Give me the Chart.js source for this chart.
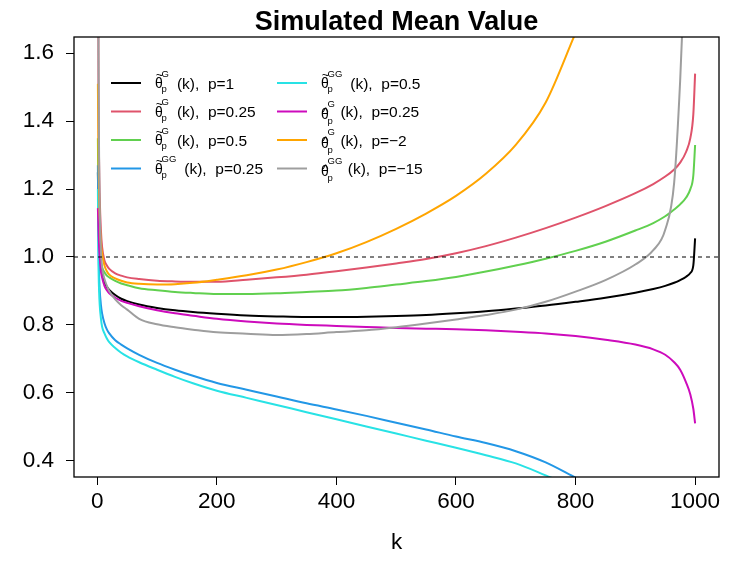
<!DOCTYPE html>
<html>
<head>
<meta charset="utf-8">
<script src="https://cdn.jsdelivr.net/npm/chart.js@4"></script>
<style>
  body { margin: 0; background: #fff; }
</style>
</head>
<body>
<canvas id="meanChart" width="747" height="561"></canvas>
<script>
const kValues = [1, 2, 3, 4, 6, 8, 12, 16, 20, 30, 40, 50, 70, 100, 130, 160, 200, 250, 300, 350,
  400, 450, 500, 550, 600, 650, 700, 750, 800, 850, 900, 930, 950, 965, 975, 985, 992, 997, 1000];

const tildeG_p1 = [1.25, 1.12, 1.05, 1.01, 0.97, 0.95, 0.925, 0.912, 0.903, 0.888, 0.877, 0.870, 0.860, 0.850, 0.843, 0.838, 0.833, 0.828, 0.825, 0.823,
  0.823, 0.824, 0.826, 0.829, 0.834, 0.840, 0.848, 0.857, 0.868, 0.880, 0.895, 0.906, 0.915, 0.924, 0.932, 0.942, 0.953, 0.975, 1.055];
const tildeG_p025 = [2.4, 1.5, 1.28, 1.18, 1.08, 1.03, 0.99, 0.975, 0.965, 0.952, 0.945, 0.940, 0.935, 0.930, 0.928, 0.927, 0.927, 0.933, 0.940, 0.948,
  0.958, 0.969, 0.981, 0.994, 1.011, 1.032, 1.057, 1.085, 1.116, 1.150, 1.188, 1.215, 1.237, 1.258, 1.278, 1.310, 1.350, 1.420, 1.540];
const tildeG_p05 = [1.35, 1.15, 1.07, 1.03, 0.99, 0.97, 0.955, 0.945, 0.940, 0.930, 0.922, 0.917, 0.908, 0.902, 0.897, 0.894, 0.891, 0.891, 0.893, 0.897,
  0.901, 0.909, 0.919, 0.929, 0.941, 0.957, 0.975, 0.995, 1.018, 1.045, 1.078, 1.100, 1.120, 1.140, 1.155, 1.175, 1.200, 1.240, 1.330];
const tildeGG_p025 = [1.27, 1.05, 0.95, 0.905, 0.86, 0.834, 0.805, 0.787, 0.775, 0.755, 0.742, 0.731, 0.712, 0.688, 0.668, 0.650, 0.629, 0.609, 0.589, 0.569,
  0.551, 0.532, 0.512, 0.492, 0.471, 0.452, 0.428, 0.395, 0.350, null, null, null, null, null, null, null, null, null, null];
const tildeGG_p05 = [1.2, 0.98, 0.90, 0.86, 0.82, 0.795, 0.775, 0.760, 0.749, 0.732, 0.718, 0.707, 0.690, 0.668, 0.647, 0.628, 0.606, 0.585, 0.564, 0.543,
  0.522, 0.501, 0.480, 0.459, 0.438, 0.416, 0.392, 0.357, 0.320, null, null, null, null, null, null, null, null, null, null];
const hatG_p025 = [1.144, 1.08, 1.03, 1.0, 0.96, 0.94, 0.915, 0.902, 0.893, 0.880, 0.871, 0.865, 0.855, 0.843, 0.834, 0.827, 0.818, 0.810, 0.804, 0.800,
  0.797, 0.794, 0.791, 0.789, 0.787, 0.784, 0.780, 0.775, 0.767, 0.756, 0.742, 0.728, 0.712, 0.690, 0.668, 0.630, 0.595, 0.553, 0.510];
const hatG_pm2 = [1.51, 1.30, 1.18, 1.12, 1.04, 1.01, 0.975, 0.958, 0.948, 0.937, 0.930, 0.925, 0.921, 0.919, 0.920, 0.924, 0.933, 0.946, 0.963, 0.985,
  1.011, 1.044, 1.083, 1.128, 1.180, 1.245, 1.330, 1.455, 1.660, null, null, null, null, null, null, null, null, null, null];
const hatGG_pm15 = [2.3, 1.6, 1.3, 1.15, 1.02, 0.97, 0.935, 0.915, 0.900, 0.875, 0.858, 0.845, 0.818, 0.802, 0.793, 0.786, 0.778, 0.774, 0.770, 0.773,
  0.779, 0.784, 0.793, 0.804, 0.816, 0.829, 0.845, 0.868, 0.898, 0.932, 0.978, 1.020, 1.080, 1.220, 1.520, 1.950, null, null, null];

const seriesValues = [tildeG_p1, tildeG_p025, tildeG_p05, tildeGG_p025, tildeGG_p05, hatG_p025, hatG_pm2, hatGG_pm15];
const seriesColors = ['#000000', '#DF536B', '#61D04F', '#2297E6', '#28E2E5', '#CD0BBC', '#FFA500', '#9E9E9E'];

// legend pieces: accent over theta, superscript, p value
const legendAccent = ['tilde', 'tilde', 'tilde', 'tilde', 'tilde', 'hat', 'hat', 'hat'];
const legendSup = ['G', 'G', 'G', 'GG', 'GG', 'G', 'G', 'GG'];
const legendP = ['1', '0.25', '0.5', '0.25', '0.5', '0.25', '\u22122', '\u221215'];

const xTickValues = [0, 200, 400, 600, 800, 1000];
const yTickValues = [0.4, 0.6, 0.8, 1.0, 1.2, 1.4, 1.6];
const refLine = 1.0;

const FONT = '"Liberation Sans", Arial, Helvetica, sans-serif';

const datasets = seriesValues.map((vals, i) => ({
  data: kValues.map((k, j) => ({ x: k, y: vals[j] })),
  borderColor: seriesColors[i],
  borderWidth: 2,
  pointRadius: 0,
  cubicInterpolationMode: 'monotone',
  spanGaps: false,
  clip: 0,
  order: 10 - i
}));

// box, dashed line, title and the R style legend
const rPlot = {
  id: 'rPlot',
  afterDatasetsDraw(chart) {
    const ctx = chart.ctx;
    const a = chart.chartArea;
    const y1 = chart.scales.y.getPixelForValue(refLine);
    ctx.save();
    ctx.strokeStyle = '#000';
    ctx.lineWidth = 1;
    ctx.setLineDash([4, 4]);
    ctx.beginPath();
    ctx.moveTo(a.left, y1);
    ctx.lineTo(a.right, y1);
    ctx.stroke();
    ctx.setLineDash([]);
    ctx.lineWidth = 1.3;
    ctx.strokeRect(a.left, a.top, a.right - a.left, a.bottom - a.top);

    ctx.fillStyle = '#000';
    ctx.font = 'bold 27px ' + FONT;
    ctx.textAlign = 'center';
    ctx.textBaseline = 'alphabetic';
    ctx.fillText('Simulated Mean Value', (a.left + a.right) / 2, 30);

    for (let i = 0; i < seriesColors.length; i++) {
      const x0 = i < 4 ? 111 : 277;
      const yc = 83 + (i % 4) * 28.5;
      ctx.strokeStyle = seriesColors[i];
      ctx.lineWidth = 2;
      ctx.beginPath();
      ctx.moveTo(x0, yc);
      ctx.lineTo(x0 + 30, yc);
      ctx.stroke();

      const tx = x0 + 44;
      const hat = legendAccent[i] === 'hat';
      ctx.fillStyle = '#000';
      ctx.textAlign = 'left';
      ctx.font = '14px ' + FONT;
      ctx.fillText('\u03b8', tx, yc + (hat ? 7.5 : 5));
      ctx.textAlign = 'center';
      if (hat) {
        ctx.font = '12px ' + FONT;
        ctx.fillText('^', tx + 4.5, yc + 4.5);
      } else {
        ctx.font = '13px ' + FONT;
        ctx.fillText('~', tx + 4.5, yc - 4);
      }
      ctx.textAlign = 'left';
      ctx.font = '9.5px ' + FONT;
      ctx.fillText(legendSup[i], tx + 6.5, hat ? yc - 5 : yc - 6.5);
      const supEnd = tx + 6.5 + ctx.measureText(legendSup[i]).width;
      ctx.fillText('p', tx + 6.5, hat ? yc + 12.5 : yc + 9);
      ctx.font = '15.5px ' + FONT;
      ctx.fillText('(k),  p=' + legendP[i], supEnd + (hat ? 5.5 : 8), yc + 5.5);
    }
    ctx.restore();
  }
};

const axisFont = { family: FONT, size: 22.5 };

new Chart(document.getElementById('meanChart'), {
  type: 'line',
  data: { datasets: datasets },
  options: {
    responsive: false,
    animation: false,
    devicePixelRatio: 1,
    layout: { padding: { top: 37, right: 28, left: 0, bottom: 0 } },
    plugins: { legend: { display: false }, tooltip: { enabled: false }, title: { display: false } },
    scales: {
      x: {
        type: 'linear',
        min: -38.96,
        max: 1039.96,
        afterBuildTicks: (s) => { s.ticks = xTickValues.map(v => ({ value: v })); },
        afterFit: (s) => { s.height = 84; },
        ticks: { font: axisFont, color: '#000', padding: 3, maxRotation: 0, autoSkip: false, callback: (v) => String(v) },
        grid: { drawOnChartArea: false, drawTicks: true, tickLength: 8, color: '#000', lineWidth: 1 },
        border: { display: false },
        title: { display: true, text: 'k', font: axisFont, color: '#000', padding: { top: 0, bottom: 5 } }
      },
      y: {
        type: 'linear',
        min: 0.352,
        max: 1.648,
        afterBuildTicks: (s) => { s.ticks = yTickValues.map(v => ({ value: v })); },
        afterFit: (s) => { s.width = 74; },
        ticks: { font: axisFont, color: '#000', padding: 12, autoSkip: false, callback: (v) => v.toFixed(1) },
        grid: { drawOnChartArea: false, drawTicks: true, tickLength: 8, color: '#000', lineWidth: 1 },
        border: { display: false }
      }
    }
  },
  plugins: [rPlot]
});
</script>
</body>
</html>
